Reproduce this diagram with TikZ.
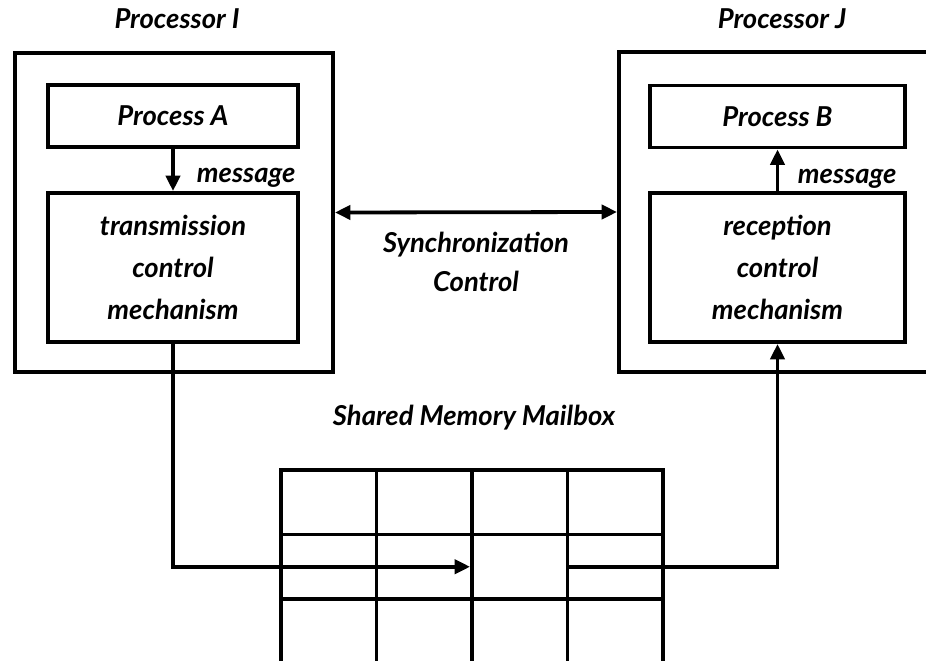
\documentclass[tikz,border=0pt]{standalone}
\usepackage{fontspec}
\setmainfont{Lato}
\usetikzlibrary{arrows.meta}
\tikzset{
  lbl/.style={font=\fontsize{19.5}{23}\selectfont\bfseries\itshape},
  frame/.style={draw, line width=2.7pt},
  procbox/.style={frame, lbl, align=center, minimum height=1.55cm},
  ctrlbox/.style={frame, lbl, align=center, minimum height=3.725cm},
  cell/.style={frame, minimum width=2.3875cm, minimum height=1.6125cm},
  link/.style={line width=2.7pt, -{Triangle[length=11pt,width=10pt]}},
  sync/.style={line width=2.7pt, {Triangle[length=11pt,width=10pt]}-{Triangle[length=11pt,width=10pt]}}
}

\begin{document}
\begin{tikzpicture}[x=0.025cm, y=-0.025cm]
  \clip (0,0) rectangle (926,661);
  \node[frame, minimum width=7.95cm, minimum height=7.975cm] (outerI) at (174,212.5) {};
  \node[frame, minimum width=8.275cm, minimum height=8cm] (outerJ) at (784.5,212) {};
  \node[lbl, anchor=base] (titleI) at (177,29) {Processor I};
  \node[lbl, anchor=base] (titleJ) at (782,29) {Processor J};
  \node[procbox, minimum width=6.25cm] (procA) at (173,116) {Process A};
  \node[ctrlbox, minimum width=6.25cm] (trans) at (173,267.5) {transmission\\[7pt]control\\[7pt]mechanism};
  \node[procbox, minimum width=6.375cm] (procB) at (777.5,116.5) {Process B};
  \node[ctrlbox, minimum width=6.375cm] (recv) at (777.5,267.5) {reception\\[7pt]control\\[7pt]mechanism};
  \node[lbl, anchor=base west] (msgA) at (192,183) {message};
  \node[lbl, anchor=base west] (msgB) at (793,184) {message};
  \node[lbl, align=center] (synctext) at (476,262) {Synchronization\\[5pt]Control};
  \node[lbl] (mailtext) at (474,418) {Shared Memory Mailbox};
  \foreach \c in {1,...,4}
    \foreach \r in {1,2,3}
      \node[cell] (cell-\c-\r) at ({281+95.5*(\c-0.5)},{470+64.5*(\r-0.5)}) {};
  \draw[link] (procA) -- (trans);
  \draw[link] (recv) -- (procB);
  \draw[sync] (outerI.east) -- (outerJ.west);
  \draw[link] (trans.south) |- (cell-3-2.west);
  \draw[link] (cell-3-2.east) -| (recv.south);
\end{tikzpicture}
\end{document}
